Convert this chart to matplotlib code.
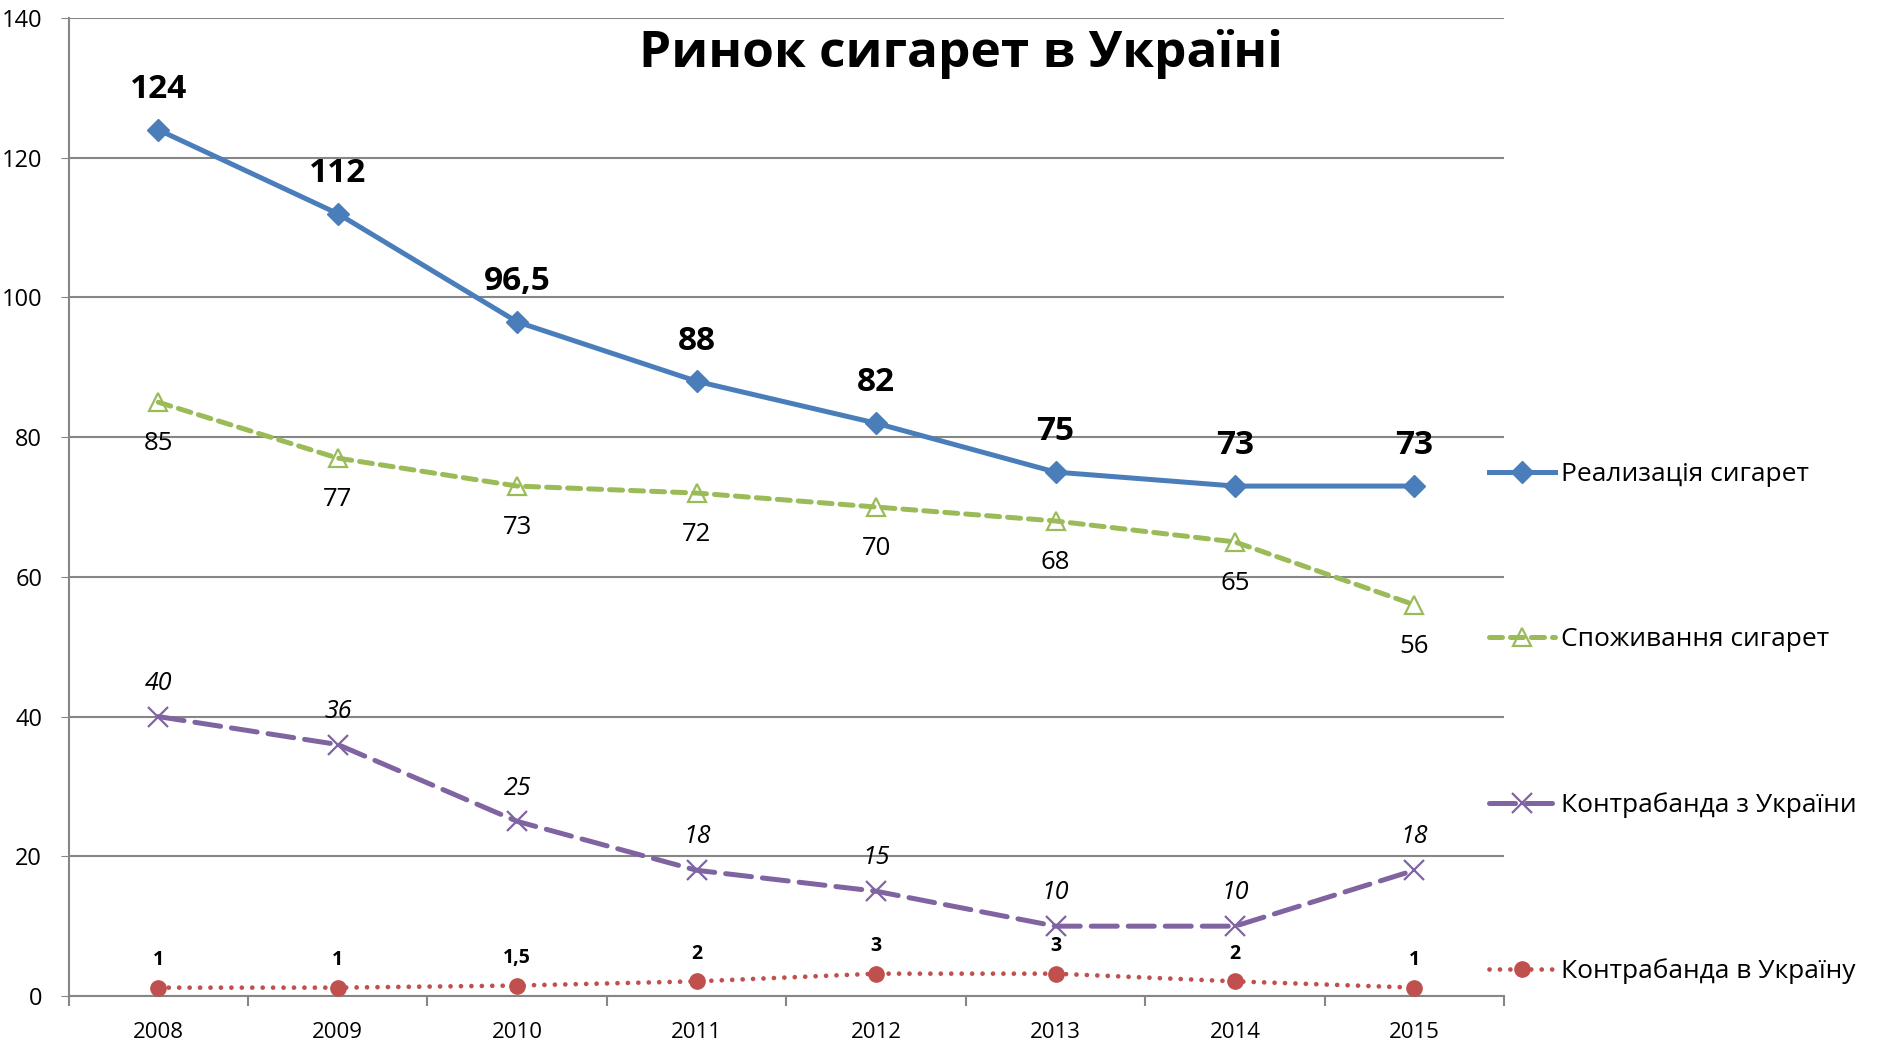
import matplotlib
matplotlib.use("Agg")
from matplotlib import pyplot as plt
import numpy as np

plt.rcParams["font.family"] = ["Open Sans", "DejaVu Sans"]

# Data
years = ["2008", "2009", "2010", "2011", "2012", "2013", "2014", "2015"]
sales = [124, 112, 96.5, 88, 82, 75, 73, 73]
sales_labels = ["124", "112", "96,5", "88", "82", "75", "73", "73"]
consumption = [85, 77, 73, 72, 70, 68, 65, 56]
smuggling_out = [40, 36, 25, 18, 15, 10, 10, 18]
smuggling_in = [1.2, 1.2, 1.5, 2.1, 3.2, 3.2, 2.1, 1.2]
smuggling_in_labels = ["1", "1", "1,5", "2", "3", "3", "2", "1"]

x = np.arange(len(years))

fig = plt.figure(figsize=(18.84, 10.48), dpi=100)
ax = fig.add_axes([0.0364, 0.0496, 0.762, 0.9332])

blue, green, purple, red = "#4A7EBB", "#9BBB59", "#8064A2", "#C0504D"

ax.plot(x, sales, color=blue, lw=3.6, marker="D", ms=11, zorder=5,
        label="Реализація сигарет")
ax.plot(x, consumption, color=green, lw=3.6, ls=(0, (2.6, 1.6)),
        dash_capstyle="round", marker="^", ms=13, mfc="none", mew=1.6,
        zorder=4, label="Споживання сигарет")
ax.plot(x, smuggling_out, color=purple, lw=3.6, ls=(0, (5.2, 2.2)),
        dash_capstyle="round", marker="x", ms=14, mew=1.6, zorder=4,
        label="Контрабанда з України")
ax.plot(x, smuggling_in, color=red, lw=3.4, ls=(0, (0.01, 2.2)),
        dash_capstyle="round", marker="o", ms=11, zorder=4,
        label="Контрабанда в Україну")

# Data labels
for xi, v, t in zip(x, sales, sales_labels):
    ax.annotate(t, (xi, v), xytext=(0, 29), textcoords="offset points",
                ha="center", va="center", fontsize=24, fontweight="bold")
for xi, v in zip(x, consumption):
    ax.annotate(str(v), (xi, v), xytext=(0, -30), textcoords="offset points",
                ha="center", va="center", fontsize=18.5)
for xi, v in zip(x, smuggling_out):
    ax.annotate(str(v), (xi, v), xytext=(0, 24), textcoords="offset points",
                ha="center", va="center", fontsize=18, style="italic")
for xi, v, t in zip(x, smuggling_in, smuggling_in_labels):
    ax.annotate(t, (xi, v), xytext=(0, 20), textcoords="offset points",
                ha="center", va="center", fontsize=14, fontweight="bold")

# Axes styling
ax.set_xlim(-0.5, 7.5)
ax.set_ylim(0, 140)
ax.set_yticks(np.arange(0, 141, 20))
ax.tick_params(axis="y", labelsize=17, length=6, color="#868686", pad=13)
ax.set_xticks(x)
ax.set_xticklabels(years)
ax.set_xticks(np.arange(-0.5, 8, 1), minor=True)
ax.tick_params(axis="x", which="major", length=0, labelsize=16, pad=19)
ax.tick_params(axis="x", which="minor", length=7, color="#868686", width=1.5)
ax.grid(axis="y", color="#868686", lw=1.5)
ax.set_axisbelow(True)
for s in ["top", "right"]:
    ax.spines[s].set_visible(False)
for s in ["left", "bottom"]:
    ax.spines[s].set_color("#868686")
    ax.spines[s].set_linewidth(1.5)

fig.text(0.51, 0.948, "Ринок сигарет в Україні", ha="center", va="center",
         fontsize=37, fontweight="bold")

fig.legend(loc="center left", bbox_to_anchor=(0.7775, 0.31), frameon=False,
           fontsize=19, labelspacing=5.3, handlelength=2.5, handletextpad=0.25)

fig.savefig("out.png", dpi=100)
